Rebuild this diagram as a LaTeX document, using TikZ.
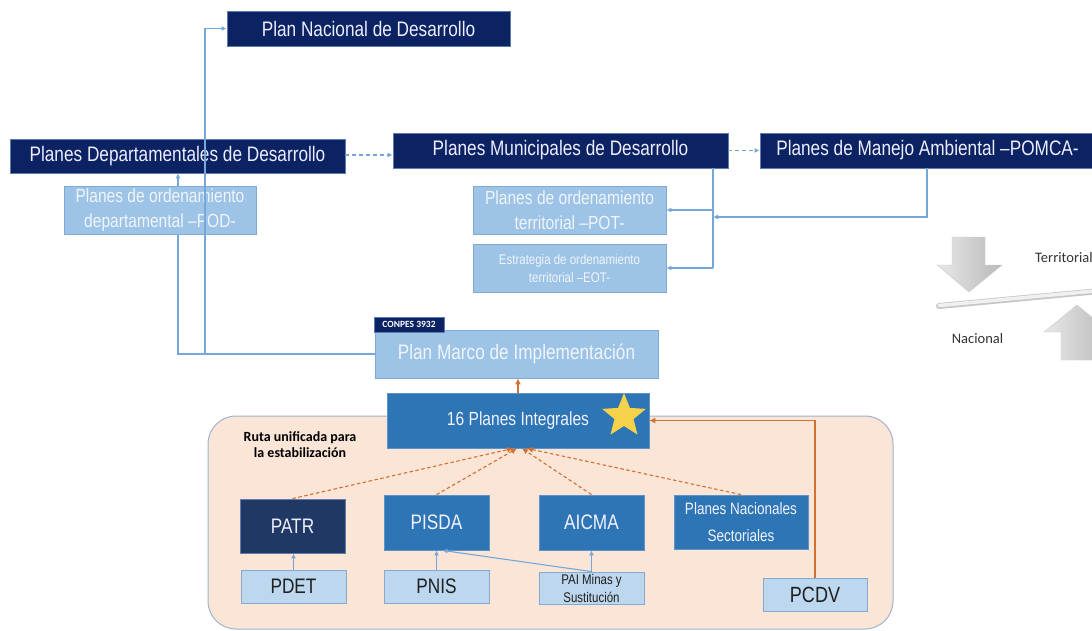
\documentclass[tikz,border=0pt]{standalone}
\usepackage{fontspec}
\newfontfamily\nar[FakeStretch=0.82]{Liberation Sans}
\newfontfamily\calib{Carlito}
\usetikzlibrary{shapes.geometric,arrows.meta}
\definecolor{navy}{HTML}{0B2263}
\definecolor{navyb}{HTML}{5F7BB0}
\definecolor{patr}{HTML}{1F3864}
\definecolor{midblue}{HTML}{2E75B6}
\definecolor{midbord}{HTML}{5E93C8}
\definecolor{ltblue}{HTML}{9DC3E6}
\definecolor{ltbord}{HTML}{7FA9D6}
\definecolor{lttext}{HTML}{F0F5FB}
\definecolor{paleblue}{HTML}{BDD7EE}
\definecolor{palebord}{HTML}{86A9D2}
\definecolor{peach}{HTML}{FBE5D6}
\definecolor{peachb}{HTML}{9FB4CC}
\definecolor{lineblue}{HTML}{76A7DA}
\definecolor{orng}{HTML}{D2702F}
\definecolor{stary}{HTML}{F6D24A}
\pgfdeclarelayer{bg}\pgfdeclarelayer{conn}\pgfsetlayers{bg,conn,main}
\tikzset{
  box/.style={rectangle, inner sep=0pt, align=center, line width=0.8pt},
  dk/.style={box, fill=navy, draw=navyb, text=white!93!blue, font=\nar\fontsize{21}{24}\selectfont},
  lt/.style={box, fill=ltblue, draw=ltbord, text=lttext},
  md/.style={box, fill=midblue, draw=midbord, text=white!95!blue},
  pl/.style={box, fill=paleblue, draw=palebord, text=black!88},
  bl/.style={draw=lineblue, line width=1.1pt},
  blarr/.style={bl, -{Latex[length=5pt,width=5pt]}},
  blda/.style={blarr, dash pattern=on 4pt off 3pt},
  orarr/.style={draw=orng, line width=1.1pt, -{Latex[length=6pt,width=6pt]}},
  orda/.style={orarr, dash pattern=on 3.5pt off 2.5pt},
  graytxt/.style={font=\calib\fontsize{14.5}{16}\selectfont, text=black!80, inner sep=0pt}
}
\begin{document}
\begin{tikzpicture}[x=1pt,y=-1pt]
\useasboundingbox (0,0) rectangle (1092,630);

% background and container
\begin{pgfonlayer}{bg}
\fill[white] (0,0) rectangle (1092,630);
\draw[fill=peach, draw=peachb, line width=1pt, rounded corners=28pt] (208,416) rectangle (893,629);
\end{pgfonlayer}

\clip (0,0) rectangle (1092,630);

% top level nodes
\node[dk, minimum width=283, minimum height=35] (PND) at (368.5,28.5) {Plan Nacional de Desarrollo};
\node[dk, minimum width=335, minimum height=34] (PDD) at (177.5,156) {Planes Departamentales de Desarrollo};
\node[dk, minimum width=335, minimum height=35] (PMD) at (560.5,150.5) {Planes Municipales de Desarrollo};
\node[dk, minimum width=335, minimum height=35] (POMCA) at (927.5,150.5) {Planes de Manejo Ambiental –POMCA-};

\node[lt, minimum width=192, minimum height=48, font=\nar\fontsize{19}{25}\selectfont] (POD) at (160,210) {Planes de ordenamiento\\departamental –POD-};
\node[lt, minimum width=193, minimum height=48, font=\nar\fontsize{19}{25}\selectfont] (POT) at (569.5,210) {Planes de ordenamiento\\territorial –POT-};
\node[lt, minimum width=193, minimum height=48, font=\nar\fontsize{14}{18}\selectfont] (EOT) at (569.5,268) {Estrategia de ordenamiento\\territorial –EOT-};

\node[lt, minimum width=283, minimum height=48, font=\nar\fontsize{21}{24}\selectfont] (PMI) at (516.5,354) {Plan Marco de Implementación};
\node[box, fill=navy, draw=navyb, minimum width=70, minimum height=15, text=white, font=\calib\bfseries\fontsize{9.5}{11}\selectfont] (CON) at (409,324.5) {CONPES 3932};

\node[md, minimum width=262, minimum height=55, font=\nar\fontsize{19}{22}\selectfont] (PI) at (518,420.5) {16 Planes Integrales};
\node[star, star points=5, star point ratio=2.3, fill=stary, minimum size=46pt, inner sep=0pt] (STAR) at (624,416) {};

\node[font=\calib\bfseries\fontsize{14}{16}\selectfont, align=center, text=black, inner sep=0pt] (RUTA) at (300,445) {Ruta unificada para\\la estabilización};

\node[box, fill=patr, draw=navyb, text=white!93!blue, minimum width=105, minimum height=54, font=\nar\fontsize{21}{24}\selectfont] (PATR) at (292.5,526) {PATR};
\node[md, minimum width=105, minimum height=55, font=\nar\fontsize{21}{24}\selectfont] (PISDA) at (436.5,522.5) {PISDA};
\node[md, minimum width=105, minimum height=55, font=\nar\fontsize{21}{24}\selectfont] (AICMA) at (591.5,522.5) {AICMA};
\node[md, minimum width=134, minimum height=54, font=\nar\fontsize{16.5}{27}\selectfont] (PNS) at (741,522) {Planes Nacionales\\Sectoriales};

\node[pl, minimum width=105, minimum height=33, font=\nar\fontsize{21}{24}\selectfont] (PDET) at (293.5,586.5) {PDET};
\node[pl, minimum width=105, minimum height=33, font=\nar\fontsize{21}{24}\selectfont] (PNIS) at (436.5,586.5) {PNIS};
\node[pl, minimum width=105, minimum height=32, font=\nar\fontsize{14}{18}\selectfont] (PAI) at (591.5,588) {PAI Minas y\\Sustitución};
\node[pl, minimum width=104, minimum height=33, font=\nar\fontsize{22}{24}\selectfont] (PCDV) at (815,594.5) {PCDV};

% helper coordinates
\coordinate (jl) at (178,354);
\coordinate (jr) at (205,354);
\coordinate (mv) at (713,217);
\coordinate (pv) at (927,217);

% connectors behind boxes
\begin{pgfonlayer}{conn}
\draw[blarr] (PMI.west) -- (jl) -- (jl |- PDD.south);
\end{pgfonlayer}

% connectors
\draw[blarr] (jr) |- (PND.west);
\draw[blda] (PDD.east |- 0,155) -- (PMD.west |- 0,155);
\draw[blda] (PMD.east) -- (POMCA.west);
\draw[bl] (PMD.south -| mv) -- (mv |- EOT.east);
\draw[blarr] (mv |- POT.east) -- (POT.east);
\draw[blarr] (mv |- EOT.east) -- (EOT.east);
\draw[blarr] (POMCA.south -| pv) -- (pv) -- (mv);

\draw[orarr] (PI.north) -- (PI.north |- PMI.south);
\draw[orda] (PATR.north) -- ([xshift=-5pt]PI.south);
\draw[orda] (PISDA.north) -- ([xshift=-1pt]PI.south);
\draw[orda] (AICMA.north) -- ([xshift=4pt]PI.south);
\draw[orda] (PNS.north) -- ([xshift=9pt]PI.south);
\draw[orarr] (PCDV.north) |- (PI.east);

\draw[blarr] (PDET.north) -- (PATR.south -| PDET.north);
\draw[blarr] (PNIS.north) -- (PISDA.south);
\draw[blarr] (PAI.north) -- (AICMA.south);
\draw[blarr] (PAI.north) -- ([xshift=6pt]PISDA.south);

% right-hand graphic
\shade[left color=gray!18, right color=gray!55, draw=gray!40, line width=0.4pt]
  (952,237) -- (985,237) -- (985,265) -- (1002,265) -- (969,292) -- (937,265) -- (952,265) -- cycle;
\shade[left color=gray!18, right color=gray!55, draw=gray!40, line width=0.4pt]
  (1077,305) -- (1110,332) -- (1094,332) -- (1094,360) -- (1061,360) -- (1061,332) -- (1044,332) -- cycle;
\draw[gray!45, line width=6pt, line cap=round] (939,306) -- (1100,291);
\draw[gray!12, line width=3.5pt, line cap=round] (939,305.5) -- (1100,290.5);
\node[graytxt, anchor=west] (TERR) at (1035,258) {Territorial};
\node[graytxt] (NAC) at (977.5,339) {Nacional};
\end{tikzpicture}
\end{document}
